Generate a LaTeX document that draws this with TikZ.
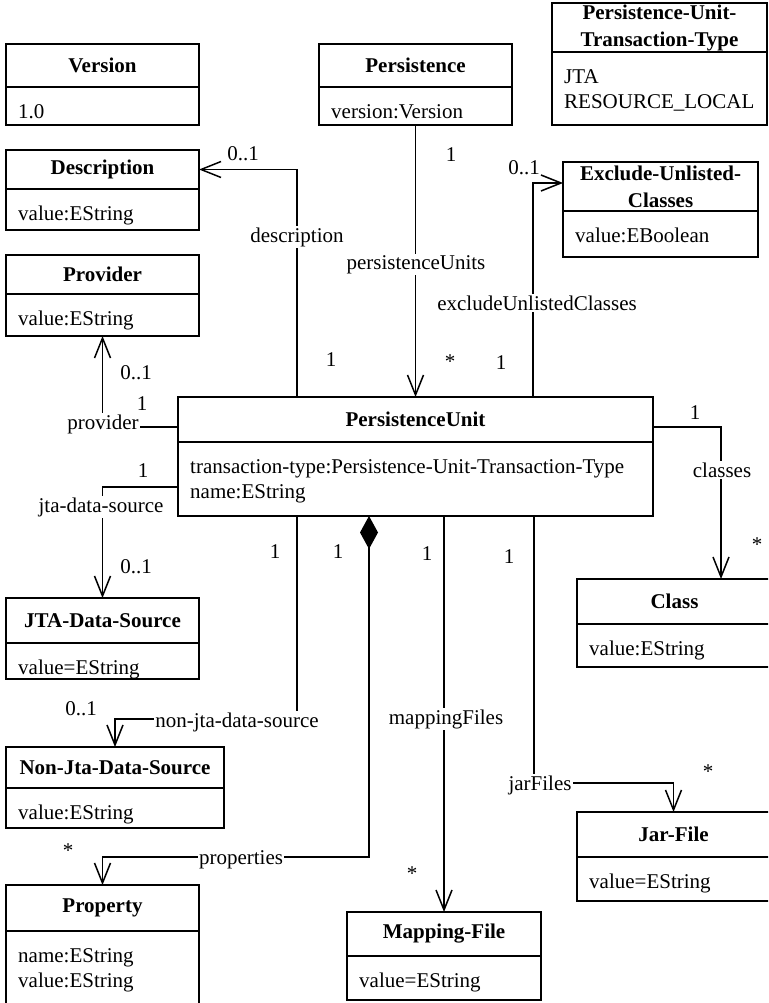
\documentclass[tikz,border=0pt]{standalone}
\usepackage{fontspec}
\setmainfont{Liberation Serif}
\usetikzlibrary{arrows.meta}

\tikzset{
  classframe/.style={draw, line width=1.5pt, inner sep=0pt, outer sep=0pt, fill=white},
  titletext/.style={font=\fontsize{21}{27}\selectfont\bfseries, align=center, inner sep=0pt},
  attrtext/.style={font=\fontsize{21}{25}\selectfont, align=left, inner sep=0pt, anchor=north west},
  lbl/.style={font=\fontsize{21}{25}\selectfont, fill=white, inner sep=1.5pt, anchor=base},
  mult/.style={font=\fontsize{21}{25}\selectfont, inner sep=0pt, anchor=base},
  link/.style={line width=1.5pt},
  assoc/.style={link, -{Straight Barb[length=20pt,width=16pt]}},
  comp/.style={link, {Diamond[length=33pt,width=18pt]}-{Straight Barb[length=20pt,width=16pt]}},
}

% #1 name, #2 left, #3 top, #4 right, #5 divider, #6 bottom, #7 title, #8 attributes
\newcommand\umlclass[8]{%
  \node[classframe, minimum width={(#4-#2)*1pt}, minimum height={(#6-#3)*1pt}]
    (#1) at ({(#2+#4)/2},{(#3+#6)/2}) {};
  \draw[link] (#2,#5) -- (#4,#5);
  \node[titletext] (#1-title) at ({(#2+#4)/2},{(#3+#5)/2}) {#7};
  \node[attrtext] (#1-attr) at ({#2+12},{#5+17}) {#8};
}

\begin{document}
\begin{tikzpicture}[x=1pt, y=-1pt]
  \fill[white] (0,0) rectangle (768,1003);
  \clip (0,0) rectangle (768,1003);

  % classes
  \umlclass{version}{6}{44}{199}{87}{125}{Version}{1.0}
  \umlclass{persistence}{319}{44}{512}{87}{125}{Persistence}{version:Version}
  \umlclass{txtype}{552}{3}{767}{52}{125}{Persistence-Unit-\\Transaction-Type}{JTA\\RESOURCE\_LOCAL}
  \umlclass{desc}{6}{150}{199}{189}{230}{Description}{value:EString}
  \umlclass{excl}{563}{162}{758}{211}{257}{Exclude-Unlisted-\\Classes}{value:EBoolean}
  \umlclass{provider}{6}{255}{199}{294}{336}{Provider}{value:EString}
  \umlclass{pu}{178}{397}{653}{442}{516}{PersistenceUnit}{transaction-type:Persistence-Unit-Transaction-Type\\name:EString}
  \umlclass{class}{577}{579}{772}{624}{667}{Class}{value:EString}
  \umlclass{jta}{6}{598}{199}{643}{679}{JTA-Data-Source}{value=EString}
  \umlclass{nonjta}{6}{747}{224}{788}{828}{Non-Jta-Data-Source}{value:EString}
  \umlclass{jar}{577}{812}{770}{857}{901}{Jar-File}{value=EString}
  \umlclass{mapping}{347}{912}{541}{956}{1000}{Mapping-File}{value=EString}
  \umlclass{property}{6}{885}{199}{931}{1012}{Property}{name:EString\\value:EString}

  % associations
  \draw[assoc] (persistence.south) -- (pu.north -| persistence.south);
  \draw[assoc] (pu.north -| 297,0) |- (desc.east |- desc-title.center);
  \draw[assoc] (pu.north -| 533,0) |- (excl.west |- 0,183);
  \draw[assoc] (pu.west |- 0,427) -| (provider.south);
  \draw[assoc] (pu.west |- 0,487) -| (jta.north);
  \draw[assoc] (pu.south -| 297,0) -- (297,719) -| (nonjta.north);
  \draw[comp]  (pu.south -| 369,0) -- (369,857) -| (property.north);
  \draw[assoc] (pu.south -| mapping.north) -- (mapping.north);
  \draw[assoc] (pu.south -| 534,0) -- (534,783) -| (jar.north);
  \draw[assoc] (pu.east |- 0,427) -| (class.north -| 721,0);

  % role names
  \node[lbl] (l-desc)  at (297,242) {description};
  \node[lbl] (l-pus)   at (416,269) {persistenceUnits};
  \node[lbl] (l-excl)  at (537,310) {excludeUnlistedClasses};
  \node[lbl] (l-cls)   at (722,477) {classes};
  \node[lbl] (l-prov)  at (103,429) {provider};
  \node[lbl] (l-jta)   at (101,512) {jta-data-source};
  \node[lbl] (l-njta)  at (237,727) {non-jta-data-source};
  \node[lbl] (l-prop)  at (241,864) {properties};
  \node[lbl] (l-map)   at (446,724) {mappingFiles};
  \node[lbl] (l-jar)   at (540,790) {jarFiles};

  % multiplicities
  \node[mult] (m1)  at (243,161) {0..1};
  \node[mult] (m2)  at (451,162) {1};
  \node[mult] (m3)  at (524,175) {0..1};
  \node[mult] (m4)  at (331,366) {1};
  \node[mult] (m5)  at (450,368) {*};
  \node[mult] (m6)  at (501,369) {1};
  \node[mult] (m7)  at (695,419) {1};
  \node[mult] (m8)  at (757,551) {*};
  \node[mult] (m9)  at (136,379) {0..1};
  \node[mult] (m10) at (142,410) {1};
  \node[mult] (m11) at (143,477) {1};
  \node[mult] (m12) at (136,573) {0..1};
  \node[mult] (m13) at (275,558) {1};
  \node[mult] (m14) at (338,558) {1};
  \node[mult] (m15) at (427,560) {1};
  \node[mult] (m16) at (509,563) {1};
  \node[mult] (m17) at (81,715)  {0..1};
  \node[mult] (m18) at (68,857)  {*};
  \node[mult] (m19) at (412,880) {*};
  \node[mult] (m20) at (708,778) {*};
\end{tikzpicture}
\end{document}
